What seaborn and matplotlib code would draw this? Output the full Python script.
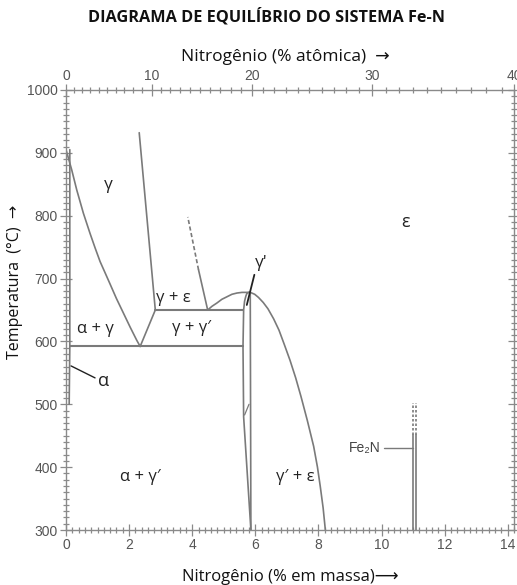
import numpy as np
import pandas as pd
import matplotlib
matplotlib.use("Agg")
import matplotlib.pyplot as plt
import seaborn as sns
from matplotlib.ticker import MultipleLocator, FixedLocator

# ---- data (x = % N em massa, y = temperatura °C) ----
gamma_solvus_x = [0.0, 0.09, 0.18, 0.34, 0.55, 0.76, 0.92, 1.08, 1.24, 1.39, 1.60, 1.82, 2.03, 2.24, 2.35]
gamma_solvus_t = [905, 889, 873, 841, 804, 772, 749, 727, 709, 692, 668, 645, 623, 602, 592]

alpha_x = [0.12, 0.12, 0.10]
alpha_t = [905, 592, 500]

gamma_gp_x = [2.35, 2.83]
gamma_gp_t = [592, 650]

gamma_eps_x = [2.83, 2.32]
gamma_eps_t = [650, 932]

eps_gamma_x = [4.49, 4.20]
eps_gamma_t = [650, 714]
eps_gamma_dash_x = [4.20, 3.86]
eps_gamma_dash_t = [714, 798]

dome_x = [4.49, 4.63, 4.78, 4.94, 5.10, 5.26, 5.42, 5.58, 5.73, 5.84, 5.98, 6.10, 6.25, 6.40,
          6.58, 6.75, 6.92, 7.10, 7.28, 7.45, 7.65, 7.85, 7.97, 8.06, 8.15, 8.22]
dome_t = [650, 656, 661, 667, 671, 675, 677, 678, 678, 678, 675, 670, 662, 652,
          636, 618, 595, 570, 542, 512, 474, 433, 400, 369, 335, 300]

gp_left_x = [5.61, 5.63, 5.66, 5.70, 5.73, 5.78, 5.84]
gp_left_t = [592, 650, 664, 672, 676, 678, 678]
gp_low_x = [5.61, 5.63, 5.86]
gp_low_t = [592, 480, 300]
gp_right_x = [5.84, 5.86]
gp_right_t = [678, 300]
gp_kink_x = [5.66, 5.80]
gp_kink_t = [483, 500]

eutectoid_t = 592
eutectoid_x = [0.12, 5.61]
peritectoid_t = 650
peritectoid_x = [2.83, 5.61]

fe2n_x = [11.00, 11.08]
fe2n_t = [300, 451]
fe2n_dash_t = [451, 502]

at_ticks = [0, 10, 20, 30, 40]

labels = [
    ("γ", 1.34, 849, 12.5),
    ("ε", 10.76, 790, 13),
    ("γ + ε", 3.40, 669, 12),
    ("α + γ", 0.92, 619, 12),
    ("γ + γ′", 3.99, 621, 12),
    ("α + γ′", 2.35, 385, 12),
    ("γ′ + ε", 7.27, 384, 12),
]

# ---- style ----
sns.set_theme(style="white")
plt.rcParams["font.family"] = ["Open Sans", "DejaVu Sans"]
line_c = "#7a7a7a"
axis_c = "#8a8a8a"
tick_c = "#555555"
tick_font = ["Liberation Sans", "DejaVu Sans"]

fig, ax = plt.subplots(figsize=(5.17, 5.85), dpi=100)
fig.subplots_adjust(left=0.1277, right=0.9942, bottom=0.094, top=0.8462)

xmax = 14.2
ax.set_xlim(0, xmax)
ax.set_ylim(300, 1000)

lw = 1.2
def curve(x, y, **kw):
    df = pd.DataFrame({"x": x, "y": y})
    sns.lineplot(data=df, x="x", y="y", sort=False, estimator=None,
                 color=kw.pop("color", line_c), lw=kw.pop("lw", lw), ax=ax, **kw)

curve(gamma_solvus_x, gamma_solvus_t)
curve(alpha_x, alpha_t)
curve(gamma_gp_x, gamma_gp_t)
curve(gamma_eps_x, gamma_eps_t)
curve(eps_gamma_x, eps_gamma_t)
curve(eps_gamma_dash_x, eps_gamma_dash_t, linestyle=(0, (2.5, 1.5)))
curve(dome_x, dome_t)
curve(gp_left_x, gp_left_t)
curve(gp_low_x, gp_low_t)
curve(gp_right_x, gp_right_t)
curve(gp_kink_x, gp_kink_t, lw=0.9)
curve(eutectoid_x, [eutectoid_t] * 2, lw=1.5)
curve(peritectoid_x, [peritectoid_t] * 2, lw=1.5)
for fx in fe2n_x:
    curve([fx, fx], fe2n_t)
    curve([fx, fx], fe2n_dash_t, linestyle=(0, (1.5, 1.2)))

# labels
for txt, x, y, fs in labels:
    ax.text(x, y, txt, ha="center", va="center", fontsize=fs, color="#222222")

# γ' leader + label
ax.plot([5.73, 5.97], [658, 706], color="#222222", lw=1.3)
ax.text(6.20, 724, "γ'", ha="center", va="center", fontsize=12.5, color="#222222")
# α leader + label
ax.plot([0.16, 0.92], [561, 542], color="#222222", lw=1.0)
ax.text(1.20, 537, "α", ha="center", va="center", fontsize=13, color="#222222")
# Fe2N leader + label
ax.plot([10.08, 11.0], [430, 430], color=line_c, lw=1.0)
ax.text(9.98, 430, "Fe₂N", ha="right", va="center", fontsize=10,
        color="#444444", family=tick_font)

# ---- axes & ticks ----
for s in ax.spines.values():
    s.set_color(axis_c)
    s.set_linewidth(1.0)
ax.set_xlabel("")
ax.set_ylabel("")
ax.xaxis.set_major_locator(MultipleLocator(2))
ax.xaxis.set_minor_locator(MultipleLocator(0.2))
ax.yaxis.set_major_locator(MultipleLocator(100))
ax.yaxis.set_minor_locator(MultipleLocator(10))
ax.tick_params(which="both", direction="inout", color=axis_c, width=0.9,
               right=True, left=True, bottom=True, top=False,
               labelsize=10, labelcolor=tick_c)
ax.tick_params(which="major", length=8, pad=2)
ax.tick_params(which="minor", length=4)
for lab in ax.get_xticklabels() + ax.get_yticklabels():
    lab.set_family(tick_font)

def at_to_wt(a):
    a = np.asarray(a, dtype=float)
    return 100 * 14.007 * a / (14.007 * a + 55.845 * (100 - a))

top = ax.twiny()
top.set_xlim(0, xmax)
top.xaxis.set_major_locator(FixedLocator(np.minimum(at_to_wt(at_ticks), xmax)))
top.set_xticklabels([str(a) for a in at_ticks])
top.xaxis.set_minor_locator(FixedLocator(np.minimum(at_to_wt(np.arange(0, 41, 1)), xmax)))
top.tick_params(which="both", direction="inout", color=axis_c, width=0.9,
                labelsize=10, labelcolor=tick_c)
top.tick_params(which="major", length=8, pad=1)
top.tick_params(which="minor", length=4)
for lab in top.get_xticklabels():
    lab.set_family(tick_font)
for s in top.spines.values():
    s.set_visible(False)

# ---- titles ----
fig.text(0.515, 1 - 17 / 585, "DIAGRAMA DE EQUILÍBRIO DO SISTEMA Fe-N",
         ha="center", va="center", fontsize=11.7, fontweight="bold", color="#111111")
fig.text(0.552, 1 - 57 / 585, "Nitrogênio (% atômica)  →", ha="center", va="center",
         fontsize=12.5, color="#111111")
fig.text(0.562, 1 - 577 / 585, "Nitrogênio (% em massa)⟶", ha="center", va="center",
         fontsize=12, color="#111111")
fig.text(0.029, 0.518, "Temperatura  (°C)  →", ha="center", va="center",
         rotation=90, fontsize=11.5, color="#111111")

fig.savefig("out.png", dpi=100)
